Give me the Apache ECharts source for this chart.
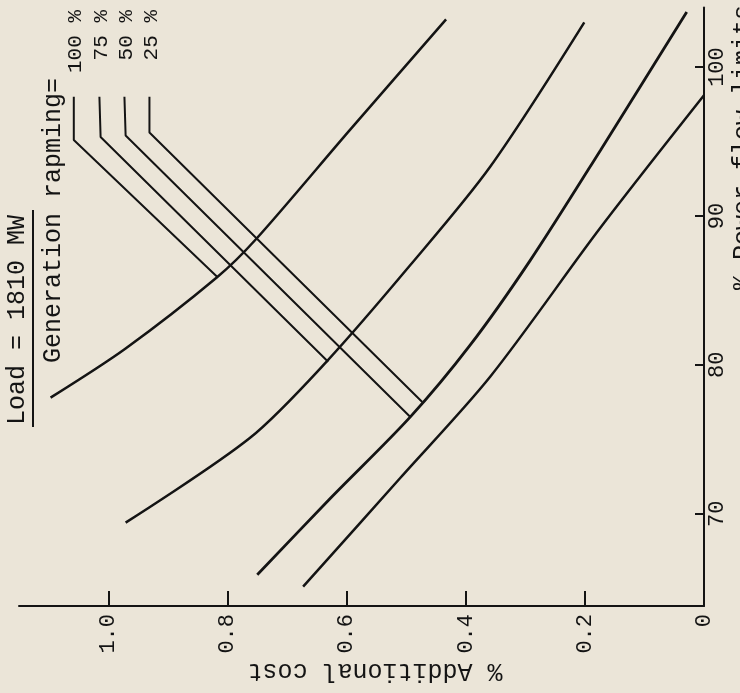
<!DOCTYPE html>
<html><head><meta charset="utf-8">
<script src="https://cdn.jsdelivr.net/npm/echarts@6/dist/echarts.min.js"></script>
<style>html,body{margin:0;padding:0;background:#ebe5d8}#c{width:740px;height:693px}</style>
</head><body><div id="c"></div><script>
// x = % Additional cost (drawn along the bottom, reversed), y = % Power flow limits (right side)
const costTicks = [0, 0.2, 0.4, 0.6, 0.8, 1.0];
const flowTicks = [70, 80, 90, 100];
const curveA = [[1.097,77.8],[0.971,81.1],[0.817,85.9],[0.753,88.4],[0.594,95.8],[0.433,103.2]];
const curveB = [[0.971,69.4],[0.762,75.1],[0.634,80.2],[0.493,86.7],[0.359,93.3],[0.201,103.0]];
const curveC = [[0.750,65.9],[0.628,71.0],[0.493,76.5],[0.393,81.3],[0.292,87.0],[0.174,94.4],[0.029,103.7]];
const curveD = [[0.673,65.1],[0.510,72.4],[0.359,79.2],[0.174,89.2],[0,98.1]];
const ramp100 = [[1.058,98.0],[1.058,95.1],[0.817,85.9]];
const ramp75  = [[1.015,98.0],[1.013,95.3],[0.631,80.2]];
const ramp50  = [[0.973,98.0],[0.971,95.4],[0.493,76.5]];
const ramp25  = [[0.931,98.0],[0.931,95.6],[0.473,77.5]];
const rampLabels = ['100 %', '75 %', '50 %', '25 %'];
const loadText = 'Load = 1810 MW';
const rampTitle = 'Generation rapming=';
const xName = '% Additional cost';
const yName = '% Power flow limits';

const FONT = '"Liberation Mono", "DejaVu Sans Mono", monospace';
const INK = '#141414';
const chart = echarts.init(document.getElementById('c'), null, {renderer: 'canvas'});

function curve(name, data, w, smooth) {
  return {name, type: 'line', data, showSymbol: false, smooth: smooth,
    lineStyle: {color: INK, width: w}, silent: true, z: 3};
}

chart.setOption({
  animation: false,
  backgroundColor: '#ebe5d8',
  grid: {left: 19, right: 36, top: 7.5, bottom: 87, containLabel: false},
  xAxis: {
    type: 'value', min: 0, max: 1.15, inverse: true, position: 'bottom',
    axisLine: {onZero: false, lineStyle: {color: INK, width: 2}},
    axisTick: {inside: true, length: 15, lineStyle: {color: INK, width: 2},
      customValues: costTicks.filter(v => v > 0)},
    axisLabel: {customValues: costTicks, rotate: 90, margin: 8,
      fontFamily: FONT, fontSize: 22, color: INK,
      formatter: v => v === 0 ? '0' : v.toFixed(1)},
    splitLine: {show: false}
  },
  yAxis: {
    type: 'value', min: 63.8, max: 104, position: 'right',
    axisLine: {onZero: false, lineStyle: {color: INK, width: 2}},
    axisTick: {inside: true, length: 9, lineStyle: {color: INK, width: 2},
      customValues: flowTicks},
    axisLabel: {customValues: flowTicks, rotate: 90, margin: 2,
      fontFamily: FONT, fontSize: 22, color: INK},
    splitLine: {show: false}
  },
  series: [
    curve('A', curveA, 2.5, 0.3),
    curve('B', curveB, 2.5, 0.3),
    curve('C', curveC, 2.8, 0.3),
    curve('D', curveD, 2.5, 0.3),
    curve('100 %', ramp100, 2, false),
    curve('75 %', ramp75, 2, false),
    curve('50 %', ramp50, 2, false),
    curve('25 %', ramp25, 2, false)
  ]
});

const ramps = [ramp100, ramp75, ramp50, ramp25];
const labelEls = ramps.map((r, i) => {
  const p = chart.convertToPixel({gridIndex: 0}, r[0]);
  return {type: 'text', x: p[0] + 2, y: 10, rotation: Math.PI / 2,
    style: {text: rampLabels[i], font: '21px ' + FONT, fill: INK,
      textAlign: 'right', textVerticalAlign: 'middle'}};
});

chart.setOption({graphic: [
  ...labelEls,
  {type: 'text', x: 17, y: 215, rotation: Math.PI / 2,
    style: {text: loadText, font: '25px ' + FONT, fill: INK, textAlign: 'right', textVerticalAlign: 'middle'}},
  {type: 'line', shape: {x1: 33, y1: 210, x2: 33, y2: 427}, style: {stroke: INK, lineWidth: 2}},
  {type: 'text', x: 53, y: 78, rotation: Math.PI / 2,
    style: {text: rampTitle, font: '25px ' + FONT, fill: INK, textAlign: 'right', textVerticalAlign: 'middle'}},
  {type: 'text', x: 375, y: 671, rotation: Math.PI,
    style: {text: xName, font: '25px ' + FONT, fill: INK, textAlign: 'center', textVerticalAlign: 'middle'}},
  {type: 'text', x: 743, y: 5, rotation: Math.PI / 2,
    style: {text: yName, font: '25px ' + FONT, fill: INK, textAlign: 'right', textVerticalAlign: 'middle'}}
]});
</script></body></html>
